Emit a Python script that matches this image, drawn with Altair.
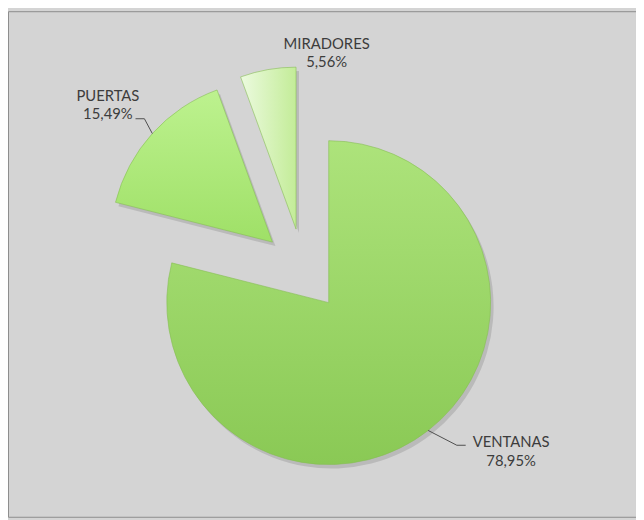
import altair as alt
import pandas as pd

# ---- data ----
categories = ["VENTANAS", "PUERTAS", "MIRADORES"]
values = [78.95, 15.49, 5.56]
pct_labels = ["78,95%", "15,49%", "5,56%"]

# ---- layout / style ----
W, H = 636, 512
CX, CY = 299, 262      # pie centre (chart pixels)
R = 164                # pie radius
EXPLODE = 42           # explosion distance of every slice
LBL = 20               # radial distance of the label anchor beyond the arc
FONT = "Lato"
FS = 15
LH = 18.5

df = pd.DataFrame({
    "cat": categories,
    "value": values,
    "pct": pct_labels,
    "order": list(range(len(categories))),
})

base = (
    alt.Chart(df)
    .transform_window(cum="sum(value)", sort=[alt.SortField("order")], frame=[None, 0])
    .transform_joinaggregate(total="sum(value)")
    .transform_calculate(
        t2="datum.cum / datum.total * 2 * PI",
        t1="(datum.cum - datum.value) / datum.total * 2 * PI",
    )
    .transform_calculate(mid="(datum.t1 + datum.t2) / 2")
    .transform_calculate(
        cx=f"{CX} + {EXPLODE} * sin(datum.mid)",
        cy=f"{CY} - {EXPLODE} * cos(datum.mid)",
    )
    .transform_calculate(
        sx="datum.cx + 3",
        sy="datum.cy + 4",
        ax=f"datum.cx + {R} * sin(datum.mid)",
        ay=f"datum.cy - {R} * cos(datum.mid)",
        side="sin(datum.mid) > 0.3 ? 1 : (sin(datum.mid) < -0.3 ? -1 : 0)",
        label="datum.cat + '\\n' + datum.pct",
    )
    .transform_calculate(
        # leader-line end (where the label sits) and elbow
        endx="datum.side > 0 ? datum.ax + 38 : (datum.side < 0 ? datum.ax - 17 : datum.ax)",
        endy="datum.side > 0 ? datum.ay + 15 : (datum.side < 0 ? datum.ay - 15 : datum.ay)",
        tx=f"datum.ax + {LBL} * sin(datum.mid)",
        ty=f"datum.ay - {LBL} * cos(datum.mid)",
    )
    .transform_calculate(
        elx="datum.endx - datum.side * 9",
        ely="datum.endy",
    )
)

def arc_enc(xf, yf):
    return dict(
        x=alt.X(f"{xf}:Q", scale=None, axis=None),
        y=alt.Y(f"{yf}:Q", scale=None, axis=None),
        theta=alt.Theta("t1:Q", scale=None, stack=None),
        theta2="t2:Q",
    )

shadow = base.mark_arc(outerRadius=R, color="#000000", opacity=0.12).encode(**arc_enc("sx", "sy"))

def grad(c1, c2, horizontal=False):
    return alt.Gradient(
        gradient="linear",
        stops=[alt.GradientStop(color=c1, offset=0), alt.GradientStop(color=c2, offset=1)],
        x1=0, y1=0, x2=1 if horizontal else 0, y2=0 if horizontal else 1,
    )

slice_styles = {
    "VENTANAS": grad("#ade37b", "#8ac955"),
    "PUERTAS": grad("#bdf28f", "#9fe067"),
    "MIRADORES": grad("#ecfadf", "#c3ec98", horizontal=True),
}

slices = [
    base.transform_filter(alt.datum.cat == c)
    .mark_arc(outerRadius=R, color=g, stroke="#86bd55", strokeWidth=0.6)
    .encode(**arc_enc("cx", "cy"))
    for c, g in slice_styles.items()
]

leader_rule = dict(color="#4d4d4d", strokeWidth=1)
lead1 = base.transform_filter("datum.side != 0").mark_rule(**leader_rule).encode(
    x=alt.X("ax:Q", scale=None, axis=None), y=alt.Y("ay:Q", scale=None, axis=None),
    x2="elx:Q", y2="ely:Q",
)
lead2 = base.transform_filter("datum.side != 0").mark_rule(**leader_rule).encode(
    x=alt.X("elx:Q", scale=None, axis=None), y=alt.Y("ely:Q", scale=None, axis=None),
    x2="endx:Q", y2="endy:Q",
)

txt = dict(font=FONT, fontSize=FS, color="#3c3c3c", lineBreak="\n", lineHeight=LH,
           align="center", baseline="alphabetic")
pos_top = dict(x=alt.X("tx:Q", scale=None, axis=None), y=alt.Y("ty:Q", scale=None, axis=None), text="label:N")
pos_side = dict(x=alt.X("endx:Q", scale=None, axis=None), y=alt.Y("endy:Q", scale=None, axis=None), text="label:N")

lbl_top = base.transform_filter("datum.side == 0").mark_text(dx=63, dy=-1, **txt).encode(**pos_top)
lbl_left = base.transform_filter("datum.side < 0").mark_text(dx=-28, dy=-18, **txt).encode(**pos_side)
lbl_right = base.transform_filter("datum.side > 0").mark_text(dx=46, dy=2, **txt).encode(**pos_side)

chart = (
    alt.layer(shadow, *slices, lead1, lead2, lbl_top, lbl_left, lbl_right)
    .properties(
        width=W, height=H,
        autosize=alt.AutoSizeParams(type="fit", contains="padding"),
        padding=0,
        background="#d4d4d4",
    )
    .configure_view(stroke="#8c8c8c", strokeWidth=1)
)

chart.save("out.html", embed_options={"renderer": "svg", "actions": False})
